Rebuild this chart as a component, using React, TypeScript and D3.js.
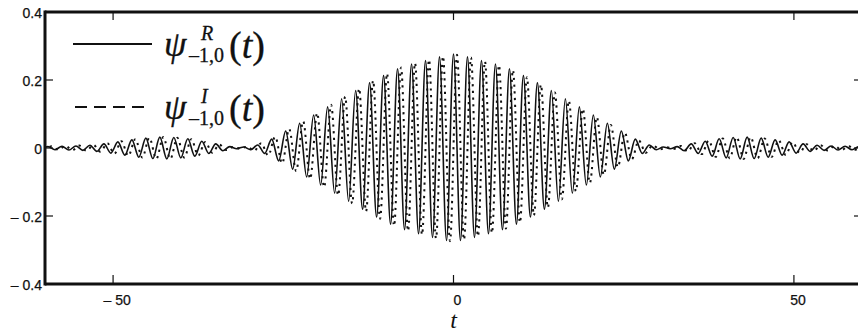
import React from "react";
import * as d3 from "d3";

// Extrema of the real part (solid) at t = k * halfPeriod, k = -59..59
const halfPeriod = 1.027;
const realExtrema: number[] = [
  -0.004, 0.004, -0.005, 0.005, -0.006, 0.006, -0.007, 0.008, -0.010, 0.012,
  -0.015, 0.018, -0.021, 0.024, -0.027, 0.029, -0.031, 0.032, -0.032, 0.031,
  -0.029, 0.027, -0.024, 0.020, -0.016, 0.012, -0.008, 0.004, -0.002, 0.003,
  -0.005, 0.009, -0.016, 0.026, -0.038, 0.050, -0.062, 0.073, -0.085, 0.097,
  -0.109, 0.121, -0.133, 0.145, -0.157, 0.169, -0.180, 0.192, -0.203, 0.213,
  -0.224, 0.233, -0.240, 0.247, -0.252, 0.257, -0.263, 0.268, -0.272, 0.276,
  -0.272, 0.268, -0.263, 0.257, -0.252, 0.247, -0.240, 0.233, -0.224, 0.213,
  -0.203, 0.192, -0.180, 0.169, -0.157, 0.145, -0.133, 0.121, -0.109, 0.097,
  -0.085, 0.073, -0.062, 0.050, -0.038, 0.026, -0.016, 0.009, -0.005, 0.003,
  -0.002, 0.004, -0.008, 0.012, -0.016, 0.020, -0.024, 0.027, -0.029, 0.031,
  -0.032, 0.032, -0.031, 0.029, -0.027, 0.024, -0.021, 0.018, -0.015, 0.012,
  -0.010, 0.008, -0.007, 0.006, -0.006, 0.005, -0.005, 0.004, -0.004,
];
const realStartK = -59;

// Extrema of the imaginary part (dashed) at t = (j + 0.5) * halfPeriod, j = -60..59
const imagExtrema: number[] = [
  0.004, -0.004, 0.005, -0.005, 0.006, -0.006, 0.007, -0.008, 0.009, -0.011,
  0.014, -0.017, 0.020, -0.023, 0.026, -0.028, 0.030, -0.032, 0.032, -0.032,
  0.030, -0.028, 0.026, -0.022, 0.018, -0.014, 0.010, -0.006, 0.003, -0.002,
  0.004, -0.008, 0.014, -0.022, 0.033, -0.045, 0.056, -0.068, 0.079, -0.091,
  0.103, -0.115, 0.127, -0.139, 0.151, -0.163, 0.175, -0.186, 0.198, -0.208,
  0.219, -0.229, 0.237, -0.244, 0.250, -0.255, 0.260, -0.266, 0.270, -0.274,
  0.274, -0.270, 0.266, -0.260, 0.255, -0.250, 0.244, -0.237, 0.229, -0.219,
  0.208, -0.198, 0.186, -0.175, 0.163, -0.151, 0.139, -0.127, 0.115, -0.103,
  0.091, -0.079, 0.068, -0.056, 0.045, -0.033, 0.022, -0.014, 0.008, -0.004,
  0.002, -0.003, 0.006, -0.010, 0.014, -0.018, 0.022, -0.026, 0.028, -0.030,
  0.032, -0.032, 0.032, -0.030, 0.028, -0.026, 0.023, -0.020, 0.017, -0.014,
  0.011, -0.009, 0.008, -0.007, 0.006, -0.006, 0.005, -0.005, 0.004, -0.004,
];
const imagStartJ = -60;

const xTicks = [-50, 0, 50];
const xTickLabels = ["\u2013 50", "0", "50"];
const yTicks = [0.4, 0.2, 0, -0.2, -0.4];
const yTickLabels = ["0.4", "0.2", "0", "\u2013 0.2", "\u2013 0.4"];

const W = 858;
const H = 336;
const L = 45;
const R = 862;
const T = 12;
const B = 284;

const SERIF = "Liberation Serif";
const SANS = "Liberation Sans";

export default function App() {
  const x = d3.scaleLinear().domain([-60, 60]).range([L, R]);
  const y = d3.scaleLinear().domain([-0.4, 0.4]).range([B, T]);

  const realPts: [number, number][] = realExtrema.map((v, i) => [
    (realStartK + i) * halfPeriod,
    v,
  ]);
  const imagPts: [number, number][] = imagExtrema.map((v, i) => [
    (imagStartJ + i + 0.5) * halfPeriod,
    v,
  ]);

  const line = d3
    .line<[number, number]>()
    .x((d) => x(d[0]))
    .y((d) => y(d[1]))
    .curve(d3.curveMonotoneX);

  return (
    <svg
      width={W}
      height={H}
      style={{ position: "absolute", left: 0, top: 0, background: "#fff" }}
    >
      <defs>
        <clipPath id="plotclip">
          <rect x={L} y={T} width={R - L} height={B - T} />
        </clipPath>
      </defs>
      <rect x={0} y={0} width={W} height={H} fill="#fff" />

      <g clipPath="url(#plotclip)">
        <path
          d={line(imagPts) || ""}
          fill="none"
          stroke="#111"
          strokeWidth={2}
          strokeDasharray="2.2,4.5"
        />
        <path d={line(realPts) || ""} fill="none" stroke="#111" strokeWidth={1.6} />
      </g>

      {/* frame */}
      <line x1={L} x2={W} y1={T} y2={T} stroke="#111" strokeWidth={2.8} />
      <line x1={L} x2={W} y1={B} y2={B} stroke="#111" strokeWidth={2.8} />
      <line x1={L} x2={L} y1={T - 1.4} y2={B + 1.4} stroke="#111" strokeWidth={3} />

      {/* x ticks */}
      {xTicks.map((t, i) => (
        <g key={"xt" + i}>
          <line x1={x(t)} x2={x(t)} y1={B} y2={B - 9} stroke="#111" strokeWidth={1.2} />
          <line x1={x(t)} x2={x(t)} y1={T} y2={T + 8} stroke="#111" strokeWidth={1.2} />
          <text
            x={x(t) + 4}
            y={305}
            textAnchor="middle"
            fontFamily={SANS}
            fontSize={14}
            fill="#111"
            stroke="#111"
            strokeWidth={0.25}
          >
            {xTickLabels[i]}
          </text>
        </g>
      ))}

      {/* y ticks */}
      {yTicks.map((t, i) => (
        <g key={"yt" + i}>
          <line x1={L} x2={L + 8} y1={y(t)} y2={y(t)} stroke="#111" strokeWidth={1.2} />
          <line x1={R - 8} x2={R} y1={y(t)} y2={y(t)} stroke="#111" strokeWidth={1.2} />
          <text
            x={42}
            y={y(t) + 6}
            textAnchor="end"
            fontFamily={SANS}
            fontSize={14}
            fill="#111"
            stroke="#111"
            strokeWidth={0.25}
          >
            {yTickLabels[i]}
          </text>
        </g>
      ))}

      {/* x label */}
      <text
        x={x(0)}
        y={328}
        textAnchor="middle"
        fontFamily={SERIF}
        fontStyle="italic"
        fontSize={24}
        fill="#111"
      >
        t
      </text>

      {/* legend */}
      <line x1={73} x2={152} y1={44} y2={44} stroke="#111" strokeWidth={2} />
      <line
        x1={75}
        x2={147}
        y1={107}
        y2={107}
        stroke="#111"
        strokeWidth={2}
        strokeDasharray="12,7"
      />
      {[
        { sup: "R", dy: 0 },
        { sup: "I", dy: 63 },
      ].map((e, i) => (
        <g key={"lg" + i} fill="#111" stroke="#111" strokeWidth={0.3}>
          <text x={164} y={56 + e.dy} fontSize={36} fontStyle="italic" fontFamily={SERIF}>
            ψ
          </text>
          <text x={201} y={40 + e.dy} fontSize={20} fontStyle="italic" fontFamily={SERIF}>
            {e.sup}
          </text>
          <text x={189} y={62 + e.dy} fontSize={20} fontFamily={SERIF}>
            {"\u2013"}1,0
          </text>
          <text x={229} y={58 + e.dy} fontSize={38} fontFamily={SERIF}>
            (<tspan fontStyle="italic">t</tspan>)
          </text>
        </g>
      ))}
    </svg>
  );
}
